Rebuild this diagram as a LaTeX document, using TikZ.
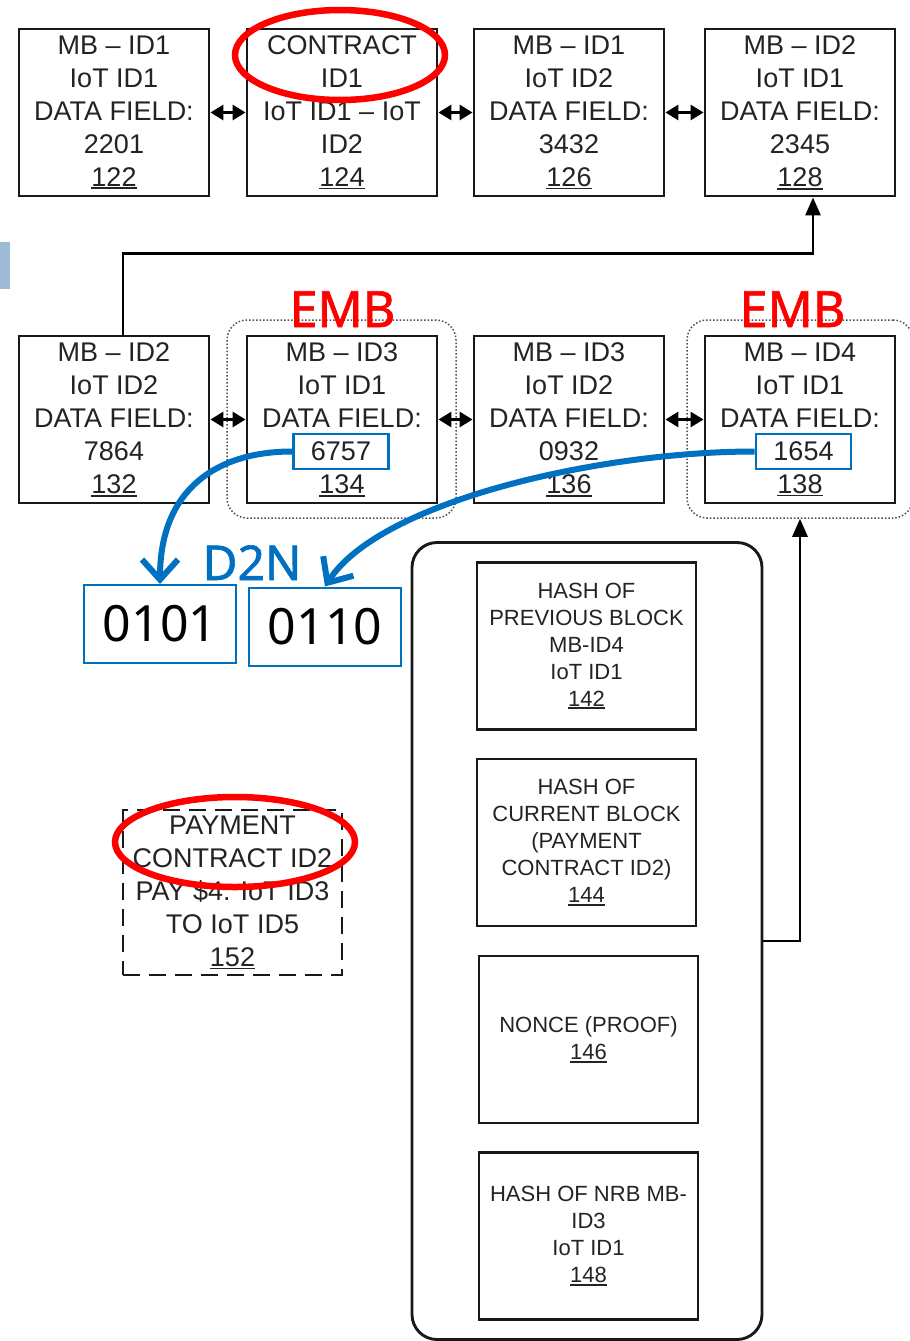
\documentclass[tikz,border=0pt]{standalone}
\usepackage{fontspec}
\setmainfont{Liberation Sans}
\newfontfamily\nsans{Noto Sans}
\newfontfamily\nsansb[FakeBold=1.3]{Noto Sans}
\usetikzlibrary{arrows.meta,shapes.geometric}
\definecolor{msblue}{RGB}{0,112,192}
\definecolor{lblue}{RGB}{157,187,214}
\definecolor{txtg}{RGB}{35,35,35}
\newcommand\refnum[1]{\leavevmode\vtop{\hbox{#1}\kern1.2pt\hrule height 1.8pt}}
\begin{document}
\begin{tikzpicture}[x=1pt,y=-1pt,
  blk/.style={draw=black!90, line width=2.9pt, minimum width=190pt, minimum height=167pt,
    inner sep=0pt, align=center, text=txtg, font=\fontsize{27}{33}\selectfont},
  hashbox/.style={draw=black!90, line width=2.9pt, minimum width=219pt, minimum height=167pt,
    inner sep=0pt, align=center, text=txtg, font=\fontsize{22}{27}\selectfont},
  numbox/.style={draw=msblue, line width=2.8pt, minimum width=95pt, minimum height=35pt,
    inner sep=0pt, text=txtg, font=\fontsize{27}{33}\selectfont},
  binbox/.style={draw=msblue, line width=2pt, minimum width=152pt, minimum height=78pt,
    inner sep=0pt, text=black, font=\nsans\fontsize{50}{60}\selectfont},
  embbox/.style={draw=black!70, dotted, line width=1.5pt, rounded corners=20pt,
    minimum height=198pt, inner sep=0pt},
  redring/.style={ellipse, draw=red, line width=6.5pt, inner sep=0pt},
  darr/.style={line width=3pt, {Triangle[length=13pt,width=15pt]}-{Triangle[length=13pt,width=15pt]}},
  conn/.style={line width=2.9pt, -{Triangle[length=18pt,width=15pt]}},
  bluearr/.style={draw=msblue, line width=6pt, -{Straight Barb[length=20pt,width=36pt,line width=6pt]}},
  redlbl/.style={text=red, font=\nsansb\fontsize{50}{55}\selectfont, anchor=base, inner sep=0pt},
  bluelbl/.style={text=msblue, font=\nsansb\fontsize{48}{55}\selectfont, anchor=base, inner sep=0pt}
]
\useasboundingbox (0,0) rectangle (910,1341);
\fill[lblue] (0,242) rectangle (10,289);

% top row
\node[blk] (n122) at (114,112.5) {MB -- ID1\\IoT ID1\\DATA FIELD:\\2201\\\refnum{122}};
\node[blk] (n124) at (342,112.5) {CONTRACT\\ID1\\IoT ID1 -- IoT\\ID2\\\refnum{124}};
\node[blk] (n126) at (569,112.5) {MB -- ID1\\IoT ID2\\DATA FIELD:\\3432\\\refnum{126}};
\node[blk] (n128) at (800,112.5) {MB -- ID2\\IoT ID1\\DATA FIELD:\\2345\\\refnum{128}};
\draw[darr] (n122) -- (n124);
\draw[darr] (n124) -- (n126);
\draw[darr] (n126) -- (n128);

% second row
\node[embbox, minimum width=229pt] (emb1) at (341.5,419) {};
\node[embbox, minimum width=226pt] (emb2) at (800,419) {};
\node[blk] (n132) at (114,419.5) {MB -- ID2\\IoT ID2\\DATA FIELD:\\7864\\\refnum{132}};
\node[blk] (n134) at (342,419.5) {MB -- ID3\\IoT ID1\\DATA FIELD:\\\phantom{6757}\\\refnum{134}};
\node[blk] (n136) at (569,419.5) {MB -- ID3\\IoT ID2\\DATA FIELD:\\0932\\\refnum{136}};
\node[blk] (n138) at (800,419.5) {MB -- ID4\\IoT ID1\\DATA FIELD:\\\phantom{1654}\\\refnum{138}};
\node[numbox] (n6757) at (341,451.5) {6757};
\node[numbox] (n1654) at (803.5,451.5) {1654};
\draw[darr] (n132) -- (n134);
\draw[darr] (n134) -- (n136);
\draw[darr] (n136) -- (n138);
\node[redlbl] (emb1lbl) at (342.5,327) {EMB};
\node[redlbl] (emb2lbl) at (792.5,327) {EMB};

\draw[conn] ([xshift=9pt]n132.north) -- ++(0,-81) -| ([xshift=13pt]n128.south);

% D2N
\node[binbox] (n0101) at (160,624) {0101};
\node[binbox] (n0110) at (325,626.5) {0110};
\node[bluelbl] (d2n) at (252,580) {D2N};
\draw[bluearr] (n6757.west) .. controls +(-75,0) and +(0,-95) .. (n0101.north);
\draw[bluearr] (n1654.west) .. controls +(-156,0) and +(55,-85) .. (n0110.north);

% block body
\node[draw=black!90, line width=2.9pt, rounded corners=25pt, minimum width=350pt,
  minimum height=797pt, inner sep=0pt] (body) at (587,941) {};
\node[hashbox] (n142) at (586.5,646) {HASH OF\\PREVIOUS BLOCK\\MB-ID4\\IoT ID1\\\refnum{142}};
\node[hashbox] (n144) at (586.5,842.5) {HASH OF\\CURRENT BLOCK\\(PAYMENT\\CONTRACT ID2)\\\refnum{144}};
\node[hashbox] (n146) at (588.5,1039.5) {NONCE (PROOF)\\\refnum{146}};
\node[hashbox] (n148) at (588.5,1236) {HASH OF NRB MB-\\ID3\\IoT ID1\\\refnum{148}};
\draw[conn] (body.east) -| (emb2.south);

% payment contract
\node[draw=black!90, line width=2.9pt, dash pattern=on 17pt off 9pt, minimum width=219pt,
  minimum height=165pt, inner sep=0pt, align=center, text=txtg,
  font=\fontsize{27}{33}\selectfont] (n152) at (232.5,892.5)
  {PAYMENT\\CONTRACT ID2\\PAY \$4. IoT ID3\\TO IoT ID5\\\refnum{152}};

% red rings
\node[redring, minimum width=210pt, minimum height=90pt] (ring1) at (340,55) {};
\node[redring, minimum width=240pt, minimum height=90pt] (ring2) at (235,842) {};
\end{tikzpicture}
\end{document}
